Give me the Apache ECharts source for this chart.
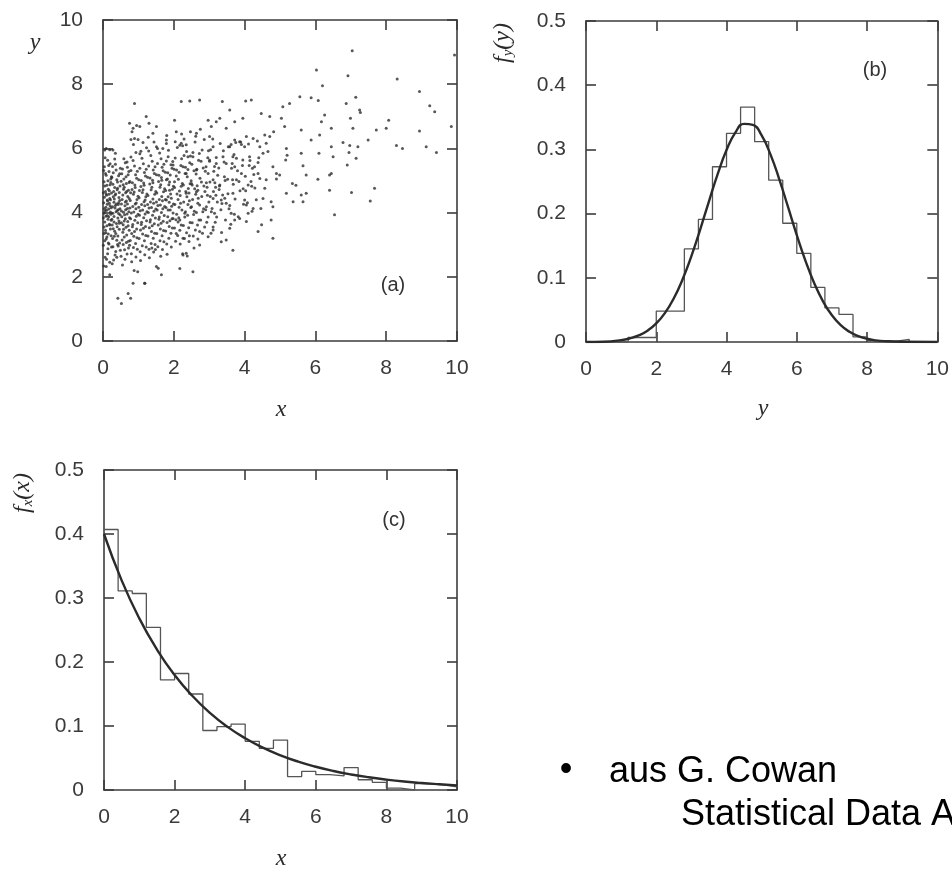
<!DOCTYPE html>
<html>
<head>
<meta charset="utf-8">
<script src="https://cdn.jsdelivr.net/npm/echarts@6/dist/echarts.min.js"></script>
<style>
html,body{margin:0;padding:0;background:#fff;}
#chart{width:952px;height:870px;}
</style>
</head>
<body>
<div id="chart"></div>
<script>
// ---------------- data ----------------
const xTicks = [0, 2, 4, 6, 8, 10];
const binEdges = [0,0.4,0.8,1.2,1.6,2.0,2.4,2.8,3.2,3.6,4.0,4.4,4.8,5.2,5.6,6.0,6.4,6.8,7.2,7.6,8.0,8.4,8.8,9.2,9.6,10.0];

// (b) histogram of y
const histB = [0,0,0,0.007,0.007,0.048,0.048,0.145,0.191,0.273,0.325,0.366,0.312,0.252,0.185,0.138,0.085,0.053,0.043,0.008,0.002,0.001,0.004,0,0];
// (b) fitted curve
const curveBX = [0,0.5,1.0,1.25,1.5,1.75,2.0,2.25,2.5,2.75,3.0,3.25,3.5,3.75,4.0,4.25,4.5,4.75,5.0,5.25,5.5,5.75,6.0,6.25,6.5,6.75,7.0,7.25,7.5,7.75,8.0,8.25,8.5,9.0,10.0];
const curveBY = [0,0.0005,0.003,0.0057,0.0102,0.0175,0.0289,0.0454,0.0681,0.0977,0.1339,0.1752,0.2192,0.2619,0.299,0.3261,0.3398,0.3382,0.3217,0.2922,0.2537,0.2104,0.1666,0.1261,0.0912,0.063,0.0416,0.0262,0.0158,0.0091,0.005,0.0026,0.0013,0.0003,0];

// (c) histogram of x
const histC = [0.407,0.311,0.307,0.254,0.172,0.182,0.150,0.093,0.099,0.103,0.076,0.065,0.078,0.021,0.029,0.024,0.022,0.035,0.016,0.012,0.003,0.0,0.010,0.008,0.005];
// (c) fitted curve
const curveCX = [0,0.5,1,1.5,2,2.5,3,3.5,4,4.5,5,5.5,6,6.5,7,7.5,8,8.5,9,9.5,10];
const curveCY = [0.4,0.3275,0.2681,0.2195,0.1797,0.1472,0.1205,0.0986,0.0808,0.0661,0.0541,0.0443,0.0363,0.0297,0.0243,0.0199,0.0163,0.0133,0.0109,0.009,0.0073];

// (a) scatter points (x, y)
const scatterDense = [
[0.02,4.31],[0.05,3.12],[0.11,4.85],[0.18,3.64],[0.07,5.22],[0.14,2.87],[0.21,4.02],[0.03,3.55],[0.09,4.58],[0.16,5.47],[0.23,3.28],[0.04,4.12],[0.12,3.91],[0.19,4.44],[0.06,2.61],[0.22,5.05],[0.01,3.83],[0.15,4.73],[0.08,3.37],[0.2,4.21],[0.13,5.63],[0.03,4.96],[0.17,3.02],[0.24,4.61],[0.1,4.07],[0.05,3.71],[0.19,2.45],[0.12,4.39],[0.02,5.31],[0.21,3.49],[0.07,4.66],[0.16,3.87],[0.09,3.18],[0.24,5.12],[0.04,4.48],[0.14,4.99],[0.18,4.29],[0.01,2.98],[0.11,3.59],[0.22,3.95],[0.06,5.71],[0.15,3.33],[0.2,4.87],[0.08,4.17],[0.13,2.72],[0.03,3.98],[0.17,5.28],[0.1,4.54],[0.23,3.76],[0.05,4.83],[0.19,3.61],[0.12,4.26],[0.02,2.34],[0.16,4.11],[0.09,5.16],[0.21,4.4],[0.07,3.45],[0.14,3.79],[0.24,2.93],[0.04,5.43],[0.18,4.68],[0.11,3.24],[0.01,4.62],[0.2,5.52],[0.06,4.05],[0.15,3.05],[0.22,4.94],[0.08,3.89],[0.13,4.36],[0.03,3.35],[0.17,4.57],[0.1,2.55],[0.23,4.15],[0.05,5.95],[0.19,5.96],
[0.27,4.18],[0.33,3.42],[0.41,4.76],[0.47,3.05],[0.29,5.24],[0.36,2.79],[0.44,4.31],[0.31,3.88],[0.39,5.02],[0.48,4.12],[0.26,3.61],[0.34,4.55],[0.42,3.27],[0.49,5.38],[0.3,2.52],[0.37,4.03],[0.45,3.74],[0.28,4.88],[0.35,5.51],[0.43,2.96],[0.32,4.42],[0.4,3.56],[0.46,4.63],[0.27,3.19],[0.38,4.27],[0.44,5.15],[0.31,3.71],[0.48,3.93],[0.34,2.68],[0.41,4.95],[0.29,4.49],[0.36,3.35],[0.47,4.38],[0.25,5.09],[0.39,3.14],[0.43,4.09],[0.33,5.67],[0.46,3.48],[0.28,3.98],[0.4,4.71],[0.35,4.22],[0.49,2.83],[0.3,4.66],[0.42,3.83],[0.37,5.33],[0.26,2.41],[0.45,4.47],[0.32,3.26],[0.38,3.66],[0.48,4.83],[0.34,4.14],[0.27,5.44],[0.41,3.01],[0.44,3.97],[0.36,4.58],[0.29,3.5],[0.47,5.21],[0.31,4.32],[0.39,2.61],[0.43,4.25],[0.25,3.79],[0.35,5.85],[0.46,3.67],[0.33,4.78],[0.4,4.06],[0.28,2.94],
[0.52,4.27],[0.58,3.48],[0.66,4.91],[0.72,3.11],[0.55,5.36],[0.61,2.84],[0.69,4.13],[0.53,3.87],[0.64,4.62],[0.71,5.18],[0.57,3.62],[0.68,3.96],[0.74,4.44],[0.51,2.64],[0.6,4.79],[0.67,3.3],[0.73,4.03],[0.56,4.55],[0.63,5.55],[0.7,3.72],[0.54,3.15],[0.62,4.21],[0.75,2.98],[0.59,5.05],[0.66,4.36],[0.52,3.68],[0.69,5.41],[0.58,4.01],[0.65,3.54],[0.72,4.7],[0.55,2.37],[0.61,3.93],[0.74,3.45],[0.57,4.87],[0.68,2.71],[0.63,3.81],[0.51,4.98],[0.7,4.5],[0.6,3.24],[0.73,5.28],[0.54,4.41],[0.66,3.07],[0.59,5.68],[0.71,3.59],[0.64,4.09],[0.53,5.21],[0.67,4.66],[0.56,3.39],[0.75,3.84],[0.62,2.55],[0.69,4.27],[0.58,4.73],[0.72,2.9],[0.65,5.12],[0.52,4.05],[0.6,3.74],[0.74,4.94],[0.57,3.01],[0.68,5.58],[0.63,4.33],
[0.77,4.38],[0.83,3.56],[0.9,4.86],[0.96,3.22],[0.79,5.31],[0.86,2.91],[0.93,4.12],[0.78,3.81],[0.88,4.64],[0.95,5.07],[0.81,3.35],[0.91,4.27],[0.98,3.68],[0.76,4.97],[0.85,5.62],[0.92,3.04],[0.99,4.51],[0.8,2.72],[0.87,4.02],[0.94,3.89],[0.82,4.72],[0.89,3.41],[0.97,5.29],[0.77,3.13],[0.84,4.19],[0.93,2.62],[0.79,5.73],[0.9,3.76],[0.96,4.41],[0.83,4.93],[0.87,3.26],[0.99,3.95],[0.81,2.47],[0.92,5.18],[0.76,4.14],[0.86,4.57],[0.95,3.49],[0.8,3.99],[0.89,5.45],[0.97,2.86],[0.84,3.63],[0.91,4.78],[0.78,4.62],[0.94,4.3],[0.88,2.2],[0.82,6.52],[0.95,6.71],[0.79,6.28],[0.98,2.16],[0.86,6.12],[0.93,5.87],[0.99,6.28],
[1.02,4.46],[1.08,3.63],[1.15,4.92],[1.21,3.29],[1.04,5.38],[1.11,2.97],[1.18,4.21],[1.03,3.92],[1.13,4.71],[1.2,5.14],[1.06,3.46],[1.16,4.34],[1.23,3.75],[1.01,5.02],[1.1,5.69],[1.17,3.12],[1.24,4.58],[1.05,2.78],[1.12,4.08],[1.19,3.96],[1.07,4.81],[1.14,3.51],[1.22,5.35],[1.02,3.19],[1.09,4.25],[1.18,2.69],[1.04,5.83],[1.15,3.84],[1.21,4.49],[1.08,5.0],[1.12,3.33],[1.24,4.03],[1.06,2.51],[1.17,5.25],[1.01,4.17],[1.11,4.63],[1.2,3.57],[1.05,4.06],[1.14,5.52],[1.22,2.93],[1.09,3.7],[1.16,4.85],[1.03,4.69],[1.19,4.39],[1.13,6.18],[1.23,6.02],[1.07,5.91],[1.18,1.8],
[1.27,4.53],[1.33,3.71],[1.4,5.01],[1.46,3.36],[1.29,5.45],[1.36,3.04],[1.43,4.29],[1.28,4.0],[1.38,4.79],[1.45,5.22],[1.31,3.53],[1.41,4.42],[1.48,3.83],[1.26,5.1],[1.35,5.78],[1.42,3.2],[1.49,4.66],[1.3,2.86],[1.37,4.16],[1.44,4.04],[1.32,4.89],[1.39,3.59],[1.47,5.43],[1.27,3.27],[1.34,4.33],[1.43,2.77],[1.29,5.92],[1.4,3.92],[1.46,4.57],[1.33,5.08],[1.37,3.41],[1.49,4.11],[1.31,2.59],[1.42,5.33],[1.26,4.25],[1.36,4.71],[1.45,3.65],[1.3,4.14],[1.39,5.6],[1.47,3.01],[1.34,3.78],[1.41,4.93],[1.28,6.35],[1.44,6.2],[1.48,2.85],[1.38,2.9],
[1.52,4.61],[1.58,3.79],[1.65,5.09],[1.71,3.44],[1.54,5.53],[1.61,3.12],[1.68,4.37],[1.53,4.08],[1.63,4.87],[1.7,5.3],[1.56,3.61],[1.66,4.5],[1.73,3.91],[1.51,5.18],[1.6,5.86],[1.67,3.28],[1.74,4.74],[1.55,2.94],[1.62,4.24],[1.69,4.12],[1.57,4.97],[1.64,3.67],[1.72,5.51],[1.52,3.35],[1.59,4.41],[1.68,2.85],[1.54,6.0],[1.65,4.0],[1.71,4.65],[1.58,5.16],[1.62,3.49],[1.74,4.19],[1.56,2.27],[1.67,5.41],[1.51,4.33],[1.61,4.79],[1.7,3.73],[1.55,4.22],[1.64,5.68],[1.72,3.09],[1.59,3.86],[1.66,5.01],[1.63,2.64],
[1.77,4.69],[1.83,3.87],[1.9,5.17],[1.96,3.52],[1.79,5.61],[1.86,3.2],[1.93,4.45],[1.78,4.16],[1.88,4.95],[1.95,5.38],[1.81,3.69],[1.91,4.58],[1.98,3.99],[1.76,5.26],[1.85,5.94],[1.92,3.36],[1.99,4.82],[1.8,3.02],[1.87,4.32],[1.94,4.2],[1.82,5.05],[1.89,3.75],[1.97,5.59],[1.77,3.43],[1.84,4.49],[1.93,2.93],[1.79,6.15],[1.9,4.08],[1.96,4.73],[1.83,5.24],[1.87,3.57],[1.99,4.27],[1.81,2.7],[1.92,5.49],[1.76,4.41],[1.86,4.87],[1.95,3.81],[1.8,6.4]
];
const scatterMid = [
[2.02,4.78],[2.08,3.95],[2.15,5.26],[2.21,3.61],[2.04,5.7],[2.11,3.29],[2.18,4.53],[2.03,4.25],[2.13,5.04],[2.2,5.47],[2.06,3.78],[2.16,4.67],[2.23,4.08],[2.01,5.35],[2.1,6.03],[2.17,3.45],[2.24,4.91],[2.05,3.11],[2.12,4.41],[2.19,4.29],[2.07,5.14],[2.14,3.84],[2.22,5.68],[2.02,3.52],[2.09,4.58],[2.18,3.02],[2.04,6.21],[2.15,4.17],[2.21,4.82],[2.08,5.33],[2.27,4.86],[2.33,4.03],[2.4,5.34],[2.46,3.69],[2.29,5.78],[2.36,3.37],[2.43,4.61],[2.28,4.33],[2.38,5.12],[2.45,5.55],[2.31,3.86],[2.41,4.75],[2.48,4.16],[2.26,5.43],[2.35,6.11],[2.42,3.53],[2.49,4.99],[2.3,3.19],[2.37,4.49],[2.44,4.37],[2.32,5.22],[2.39,3.92],[2.47,5.76],[2.27,3.6],[2.34,4.66],[2.43,3.1],[2.29,6.29],[2.4,4.25],[2.46,4.9],[2.33,5.41],[2.25,2.72],[2.38,2.65],[2.12,3.71],[2.36,5.9],[2.22,6.45],[2.47,6.52],[2.02,4.96],[2.44,3.28],
[2.52,4.86],[2.58,4.04],[2.65,5.35],[2.71,3.77],[2.54,5.87],[2.61,3.46],[2.68,4.7],[2.53,4.41],[2.63,5.2],[2.7,5.63],[2.56,3.94],[2.66,4.84],[2.73,4.24],[2.51,5.51],[2.6,6.2],[2.67,3.61],[2.74,5.07],[2.55,3.27],[2.62,4.57],[2.69,4.45],[2.57,5.3],[2.64,4.0],[2.72,5.84],[2.52,3.68],[2.59,4.74],[2.68,3.18],[2.78,4.95],[2.84,4.12],[2.91,5.43],[2.97,3.86],[2.8,5.95],[2.87,3.55],[2.94,4.79],[2.79,4.5],[2.89,5.29],[2.96,5.71],[2.82,4.03],[2.92,4.93],[2.99,4.33],[2.77,5.6],[2.86,6.28],[2.93,3.7],[2.81,3.36],[2.88,4.66],[2.95,4.54],[2.83,5.39],[2.9,4.09],[2.98,5.93],[2.76,3.77],[2.85,4.83],[2.62,6.38],[2.75,6.6],[2.57,2.9],
[3.02,4.95],[3.08,4.13],[3.15,5.44],[3.21,3.86],[3.04,5.96],[3.11,3.55],[3.18,4.79],[3.03,4.5],[3.13,5.29],[3.2,5.72],[3.06,4.03],[3.16,4.93],[3.23,4.33],[3.01,5.6],[3.1,6.29],[3.17,3.7],[3.24,5.16],[3.05,3.36],[3.12,4.66],[3.19,4.54],[3.27,5.39],[3.33,4.09],[3.4,5.93],[3.46,3.77],[3.29,4.83],[3.36,4.28],[3.43,5.12],[3.31,6.15],[3.38,4.55],[3.45,5.0],[3.35,3.38],[3.42,5.58],[3.28,4.72],[3.44,4.45],
[3.52,5.04],[3.58,4.22],[3.65,5.53],[3.71,3.95],[3.54,6.05],[3.61,3.64],[3.68,4.88],[3.53,4.59],[3.63,5.38],[3.7,5.81],[3.56,4.12],[3.66,5.02],[3.73,4.42],[3.77,5.69],[3.84,4.97],[3.91,6.12],[3.97,4.26],[3.8,5.3],[3.87,4.68],[3.94,5.47],[3.82,3.87],[3.89,6.2],[3.96,4.74],[3.62,6.12],[3.75,6.18],
[4.02,5.13],[4.08,4.31],[4.15,5.62],[4.21,4.04],[4.11,6.14],[4.18,4.97],[4.03,4.68],[4.13,5.47],[4.26,5.19],[4.33,4.4],[4.4,5.71],[4.46,4.13],[4.36,6.23],[4.43,5.06],[4.29,4.77],[4.38,5.56],[4.48,3.62],[4.22,5.38]
];
const scatterSparse = [
[7.04,9.04],[9.93,8.91],[6.03,8.44],[6.92,8.26],[8.31,8.16],[6.2,7.95],[5.56,7.61],[5.88,7.58],[6.08,7.49],[7.14,7.59],[6.87,7.4],[8.94,7.77],[9.23,7.33],[9.37,7.14],[7.25,7.2],[7.27,7.12],[6.99,6.94],[7.06,6.63],[7.72,6.57],[8.07,6.88],[8.0,6.63],[9.84,6.68],[8.94,6.54],[8.29,6.09],[8.46,6.0],[9.13,6.05],[9.42,5.87],[7.49,6.26],[7.2,6.05],[6.97,6.09],[6.78,6.18],[6.9,5.48],[7.15,5.69],[6.95,5.87],[7.02,4.63],[7.67,4.76],[7.55,4.36],[6.54,3.93],[6.4,4.7],[6.4,5.17],[6.45,5.22],[6.45,6.05],[6.45,6.63],[6.5,5.74],[6.12,6.42],[6.17,6.83],[6.26,7.04],[6.1,5.85],[6.07,5.04],[5.88,6.26],[5.6,6.57],[5.74,4.6],[5.65,4.34],[5.6,4.55],[5.74,5.17],[5.65,5.46],[5.6,5.85],[5.37,4.34],[5.35,4.91],[5.45,4.85],[5.18,4.6],[5.27,7.4],[5.08,7.3],[5.04,6.94],[5.13,6.68],[5.18,6.0],[5.2,5.79],[5.16,5.64],[4.9,5.22],[4.99,5.17],[4.9,5.05],[4.8,5.43],[4.82,6.52],[4.71,6.37],[4.61,6.16],[4.8,3.2],[4.75,3.77],[4.8,4.18],[4.75,4.34],[4.52,4.44],[4.57,4.76],[4.61,5.02],[4.52,5.85],[4.66,5.9],[4.43,6.05],[4.57,6.42],[4.47,7.09],[4.71,6.99],[4.38,3.41],[4.38,5.22],[4.28,5.43],[4.14,5.74],[4.24,6.31],[4.19,7.51],[4.03,7.48],[3.95,6.94],[4.05,6.37],[4.0,6.05],[3.95,5.64],[3.91,5.22],[4.1,4.86],[4.2,4.82],[4.0,4.39],[4.05,4.24],[4.24,4.13],[4.1,3.98],[3.86,3.82],[4.05,3.72],[3.67,2.83],[3.48,3.15],[3.34,3.09],[3.58,3.51],[3.72,3.77],[3.62,3.98],[3.48,4.29],[3.34,4.39],[3.67,4.6],[3.77,5.02],[3.72,5.43],[3.67,5.74],[3.72,6.26],[3.86,6.21],[3.58,6.05],[3.39,5.74],[3.48,5.53],[3.72,6.83],[3.58,7.2],[3.37,7.46],[3.3,6.94],[3.2,6.83],[3.48,6.63],[3.06,6.68],[2.97,6.88],[3.01,6.37],[3.11,6.05],[3.2,5.53],[3.01,5.64],[2.97,5.22],[3.11,5.02],[3.3,4.86],[3.11,4.44],[2.92,4.18],[3.15,3.98],[3.11,3.46],[2.97,3.25],[2.73,2.99],[2.73,3.41],[2.64,6.47],[2.73,7.51],[2.45,7.48],[2.21,7.46],[2.21,6.16],[2.17,6.1],[2.25,6.08],[2.02,6.88],[2.07,6.52],[2.4,5.74],[2.54,5.74],[2.64,5.33],[2.35,5.22],[2.5,4.91],[2.35,4.6],[2.64,4.65],[2.68,4.29],[2.5,4.18],[2.31,3.98],[2.17,3.77],[2.07,3.35],[2.26,3.2],[2.35,2.73],[2.26,2.68],[2.17,2.26],[2.54,2.16],[1.98,3.82],[1.84,4.08],[1.79,4.39],[1.88,4.7],[1.79,5.02],[1.98,5.48],[1.84,5.74],[1.69,6.0],[1.79,6.26],[1.51,6.05],[1.41,6.47],[1.51,6.68],[1.22,6.99],[1.3,6.78],[0.89,7.4],[0.75,6.78],[0.85,6.63],[1.04,6.68],[0.89,6.31],[1.51,2.32],[1.65,2.06],[1.18,1.8],[0.85,1.8],[0.71,1.48],[0.78,1.33],[0.42,1.33],[0.52,1.17],[0.19,2.06],[0.09,2.32],[0.28,5.95],[0.09,6.0]
];

// ---------------- layout ----------------
const grids = [
  {left:103, top:20, width:354, height:321},
  {left:586, top:21, width:354, height:321},
  {left:104, top:470, width:353, height:320}
];
const yRanges = [{max:10, interval:2}, {max:0.5, interval:0.1}, {max:0.5, interval:0.1}];
const frameColor = '#3c3c3c';
const labelColor = '#3a3a3a';

const xAxes = [], yAxes = [];
grids.forEach((g, i) => {
  const lineCfg = {show:true, onZero:false, lineStyle:{color:frameColor, width:1.6}};
  const tickCfg = {show:true, inside:true, length:10, lineStyle:{color:frameColor, width:1.6}};
  xAxes.push({type:'value', gridIndex:i, position:'bottom', min:0, max:10, interval:2,
    axisLine:lineCfg, axisTick:tickCfg, splitLine:{show:false},
    axisLabel:{show:true, margin:17, color:labelColor, fontSize:21, fontFamily:'Liberation Sans'}});
  xAxes.push({type:'value', gridIndex:i, position:'top', min:0, max:10, interval:2,
    axisLine:lineCfg, axisTick:tickCfg, splitLine:{show:false}, axisLabel:{show:false}});
  yAxes.push({type:'value', gridIndex:i, position:'left', min:0, max:yRanges[i].max, interval:yRanges[i].interval,
    axisLine:lineCfg, axisTick:tickCfg, splitLine:{show:false},
    axisLabel:{show:true, margin:20, color:labelColor, fontSize:21, fontFamily:'Liberation Sans'}});
  yAxes.push({type:'value', gridIndex:i, position:'right', min:0, max:yRanges[i].max, interval:yRanges[i].interval,
    axisLine:lineCfg, axisTick:tickCfg, splitLine:{show:false}, axisLabel:{show:false}});
});

function stepData(heights) {
  const d = heights.map((h, i) => [binEdges[i], h]);
  d.push([binEdges[binEdges.length - 1], heights[heights.length - 1]]);
  return d;
}
function zip(xs, ys) { return xs.map((x, i) => [x, ys[i]]); }

const serifItalic = {fontFamily:'Liberation Serif', fontStyle:'italic', fill:'#2a2a2a'};
function axisName(x, y, t, size) {
  return {type:'text', x:x, y:y, style:Object.assign({text:t, fontSize:size, align:'center', verticalAlign:'middle'}, serifItalic)};
}
function funcName(x, y, sub, arg) {
  return {type:'text', x:x, y:y, rotation:Math.PI/2,
    style:{text:'{f|f}{s|' + sub + '}{p|(' + arg + ')}', align:'center', verticalAlign:'middle',
      rich:{
        f:{fontSize:24, lineHeight:26, fontFamily:'Liberation Serif', fontStyle:'italic', fill:'#2a2a2a'},
        s:{fontSize:15, lineHeight:14, verticalAlign:'bottom', fontFamily:'Liberation Serif', fontStyle:'italic', fill:'#2a2a2a'},
        p:{fontSize:24, lineHeight:26, fontFamily:'Liberation Serif', fontStyle:'italic', fill:'#2a2a2a'}
      }}};
}
function panelTag(x, y, t) {
  return {type:'text', x:x, y:y, style:{text:t, fontSize:20, fontFamily:'Liberation Sans', fill:'#333', align:'center', verticalAlign:'middle'}};
}

const option = {
  backgroundColor:'#ffffff',
  animation:false,
  grid:grids,
  xAxis:xAxes,
  yAxis:yAxes,
  series:[
    {type:'scatter', xAxisIndex:0, yAxisIndex:0, symbolSize:3, itemStyle:{color:'#2e2e2e'},
      data:scatterDense.concat(scatterMid, scatterSparse)},
    {type:'line', xAxisIndex:2, yAxisIndex:2, step:'end', symbol:'none',
      lineStyle:{color:'#555', width:1.3}, data:stepData(histB)},
    {type:'line', xAxisIndex:2, yAxisIndex:2, smooth:true, symbol:'none',
      lineStyle:{color:'#2b2b2b', width:2.4}, data:zip(curveBX, curveBY)},
    {type:'line', xAxisIndex:4, yAxisIndex:4, step:'end', symbol:'none',
      lineStyle:{color:'#555', width:1.3}, data:stepData(histC)},
    {type:'line', xAxisIndex:4, yAxisIndex:4, smooth:true, symbol:'none',
      lineStyle:{color:'#2b2b2b', width:2.4}, data:zip(curveCX, curveCY)}
  ],
  graphic:[
    axisName(35, 43, 'y', 24),
    axisName(281, 410, 'x', 24),
    axisName(763, 409, 'y', 24),
    axisName(281, 859, 'x', 24),
    funcName(503, 43, 'y', 'y'),
    funcName(23, 493, 'x', 'x'),
    panelTag(393, 285, '(a)'),
    panelTag(875, 70, '(b)'),
    panelTag(394, 520, '(c)'),
    {type:'text', x:566, y:770, style:{text:'•', fontSize:36, fontFamily:'Liberation Sans', fill:'#000', align:'center', verticalAlign:'middle'}},
    {type:'text', x:609, y:772, style:{text:'aus G. Cowan', fontSize:36, fontFamily:'Liberation Sans', fill:'#000', align:'left', verticalAlign:'middle'}},
    {type:'text', x:681, y:815, style:{text:'Statistical Data Analysis', fontSize:36, fontFamily:'Liberation Sans', fill:'#000', align:'left', verticalAlign:'middle'}}
  ]
};

const chart = echarts.init(document.getElementById('chart'), null, {renderer:'canvas'});
chart.setOption(option);
</script>
</body>
</html>
